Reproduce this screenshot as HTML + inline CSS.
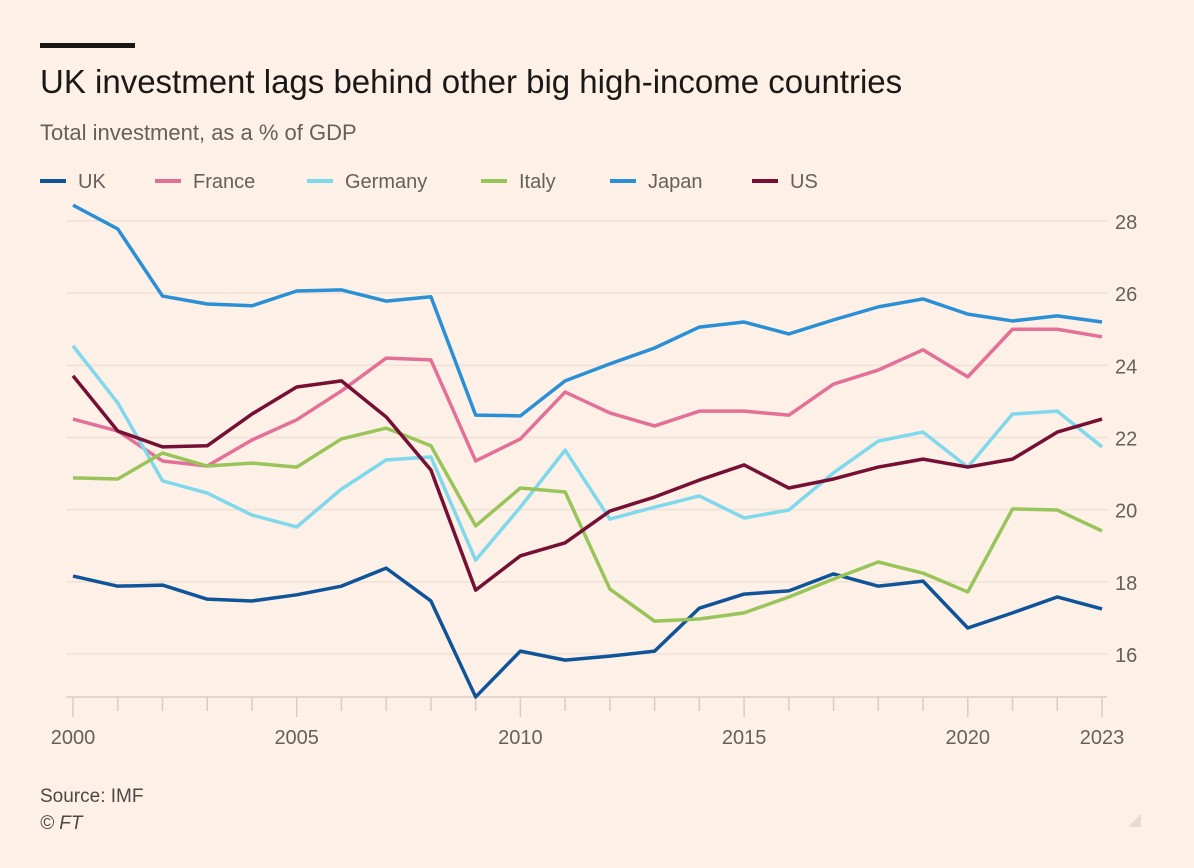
<!DOCTYPE html>
<html><head><meta charset="utf-8"><style>
html,body{margin:0;padding:0;background:#fdf0e6;}
body{width:1194px;height:868px;position:relative;overflow:hidden;font-family:"Liberation Sans",sans-serif;}
.t{position:absolute;white-space:nowrap;}
</style></head><body>
<div style="position:absolute;left:40px;top:43px;width:95px;height:5px;background:#1a1817"></div>
<div class="t" style="left:40px;top:63px;font-size:33px;color:#1a1817">UK investment lags behind other big high-income countries</div>
<div class="t" style="left:40px;top:120px;font-size:22px;color:#66605c">Total investment, as a % of GDP</div>
<div class="t" style="left:40px;top:786px;font-size:19px;color:#4d4845">Source: IMF</div>
<div class="t" style="left:40px;top:813px;font-size:19px;color:#4d4845;font-style:italic">© FT</div>
<svg id="chart" width="1194" height="868" style="position:absolute;left:0;top:0"></svg>
<script>
const years=[2000,2001,2002,2003,2004,2005,2006,2007,2008,2009,2010,2011,2012,2013,2014,2015,2016,2017,2018,2019,2020,2021,2022,2023];
const yTicks=[16,18,20,22,24,26,28];
const xLabels=[2000,2005,2010,2015,2020,2023];
const ukVals=[18.16,17.88,17.91,17.52,17.47,17.64,17.88,18.38,17.47,14.81,16.08,15.83,15.94,16.08,17.27,17.66,17.75,18.22,17.88,18.02,16.72,17.14,17.58,17.25];
const franceVals=[22.51,22.18,21.35,21.21,21.93,22.49,23.29,24.2,24.15,21.35,21.96,23.26,22.68,22.32,22.73,22.73,22.62,23.48,23.87,24.43,23.68,25.0,25.0,24.79];
const germanyVals=[24.54,22.96,20.8,20.46,19.85,19.52,20.57,21.38,21.46,18.6,20.07,21.65,19.74,20.07,20.38,19.77,19.99,21.02,21.9,22.15,21.18,22.65,22.73,21.74];
const italyVals=[20.88,20.85,21.57,21.21,21.29,21.18,21.96,22.26,21.77,19.55,20.6,20.49,17.8,16.91,16.97,17.14,17.58,18.08,18.55,18.24,17.72,20.02,19.99,19.41];
const japanVals=[28.44,27.78,25.92,25.7,25.65,26.06,26.09,25.78,25.9,22.62,22.6,23.57,24.04,24.48,25.06,25.2,24.87,25.26,25.62,25.84,25.42,25.23,25.37,25.2];
const usVals=[23.71,22.18,21.74,21.77,22.65,23.4,23.57,22.57,21.1,17.77,18.72,19.08,19.96,20.35,20.82,21.24,20.6,20.85,21.18,21.4,21.18,21.4,22.15,22.51];
const seriesNames=["UK","France","Germany","Italy","Japan","US"];
const seriesColors=["#0f5499","#e46f97","#7fd8ec","#99c45a","#2b8fd6","#760f34"];
const seriesVals=[ukVals,franceVals,germanyVals,italyVals,japanVals,usVals];
const legendX=[40,155,307,481,610,752];

const NS="http://www.w3.org/2000/svg";
const svg=document.getElementById('chart');
const x=v=>73+(v-2000)*(1102-73)/23;
const y=v=>654-(v-16)*(654-221)/12;
function mk(tag,attrs){const e=document.createElementNS(NS,tag);for(const k in attrs)e.setAttribute(k,attrs[k]);svg.appendChild(e);return e;}
yTicks.forEach(t=>{
  const g=mk('line',{x1:66,x2:1107,y1:y(t),y2:y(t),stroke:'#f0e1d5','stroke-width':1.5});
  
  
  const l=mk('text',{x:1115,y:y(t)+8,'font-size':20,fill:'#66605c','font-family':'Liberation Sans, sans-serif'});
  l.textContent=t;
  
  
});
const base=mk('line',{x1:66,x2:1107,y1:697,y2:697,stroke:'#d9cdc3','stroke-width':1.5});


years.forEach(yr=>{
  const major=xLabels.includes(yr);
  const tk=mk('line',{x1:x(yr),x2:x(yr),y1:697,y2:major?717:711,stroke:'#d9cdc3','stroke-width':1.5});
  
  
});
xLabels.forEach(yr=>{
  const l=mk('text',{x:x(yr),y:744,'font-size':20,fill:'#66605c','text-anchor':'middle','font-family':'Liberation Sans, sans-serif'});
  l.textContent=yr;
  
  
});
seriesVals.forEach((vals,i)=>{
  const p=mk('polyline',{points:vals.map((v,j)=>x(years[j])+','+y(v)).join(' '),fill:'none',stroke:seriesColors[i],'stroke-width':3.5,'stroke-linejoin':'round'});
  
  
  const sw=mk('line',{x1:legendX[i],x2:legendX[i]+26,y1:181,y2:181,stroke:seriesColors[i],'stroke-width':4});
  
  
  const lt=mk('text',{x:legendX[i]+38,y:188,'font-size':20,fill:'#66605c','font-family':'Liberation Sans, sans-serif'});
  lt.textContent=seriesNames[i];
  
  
});
const c=mk('polygon',{points:'1141,814 1141,827 1128,827',fill:'#e6dbd2'});


</script>
</body></html>
